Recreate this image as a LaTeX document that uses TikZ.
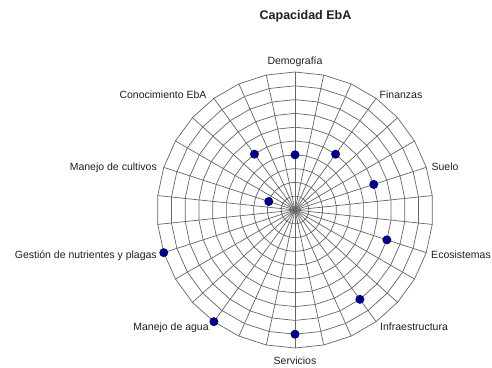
\documentclass[tikz,border=0pt]{standalone}
\usepackage{fontspec}
\setmainfont{Liberation Sans}
\definecolor{navy}{HTML}{000080}
\definecolor{gridc}{gray}{0.4}
\definecolor{txt}{gray}{0.12}
\begin{document}
\begin{tikzpicture}[x=1bp,y=1bp,
  grid/.style={draw=gridc,line width=0.7bp},
  lab/.style={anchor=base,inner sep=0pt,text=txt,font=\fontsize{10.5bp}{12bp}\selectfont},
  ttl/.style={anchor=base,inner sep=0pt,text=txt,font=\fontsize{12.5bp}{14bp}\selectfont\bfseries},
  dot/.style={circle,fill=navy,inner sep=0pt,minimum size=9bp}]
\useasboundingbox (0,0) rectangle (492,367);
\fill[white] (0,0) rectangle (492,367);
\begin{scope}[shift={(295,157)}]
  \coordinate (C) at (0,0);
  \foreach \k in {1,...,10}
    \draw[grid] (90:\k*13.8) \foreach \a in {1,...,29} { -- (90+\a*12:\k*13.8) } -- cycle;
  \foreach \a in {0,...,29}
    \draw[grid] (C) -- (90+\a*12:138);
  \node[dot] (dDem) at (90:4*13.8) {};
  \node[dot] (dFin) at (54:5*13.8) {};
  \node[dot] (dSue) at (18:6*13.8) {};
  \node[dot] (dEco) at (-18:7*13.8) {};
  \node[dot] (dInf) at (-54:8*13.8) {};
  \node[dot] (dSer) at (-90:9*13.8) {};
  \node[dot] (dAgu) at (-126:10*13.8) {};
  \node[dot] (dGes) at (-162:10*13.8) {};
  \node[dot] (dCul) at (162:2*13.8) {};
  \node[dot] (dCon) at (126:5*13.8) {};
\end{scope}
\node[ttl] (title) at (305.5,348) {Capacidad EbA};
\node[lab] (lDem) at (295,303) {Demografía};
\node[lab] (lCon) at (163,269) {Conocimiento EbA};
\node[lab] (lCul) at (113.3,197) {Manejo de cultivos};
\node[lab] (lGes) at (85.8,109) {Gestión de nutrientes y plagas};
\node[lab] (lFin) at (401,269) {Finanzas};
\node[lab] (lSue) at (445,197) {Suelo};
\node[lab] (lEco) at (461,109) {Ecosistemas};
\node[lab] (lAgu) at (171,37) {Manejo de agua};
\node[lab] (lInf) at (414,37) {Infraestructura};
\node[lab] (lSer) at (295,2.5) {Servicios};
\end{tikzpicture}
\end{document}
